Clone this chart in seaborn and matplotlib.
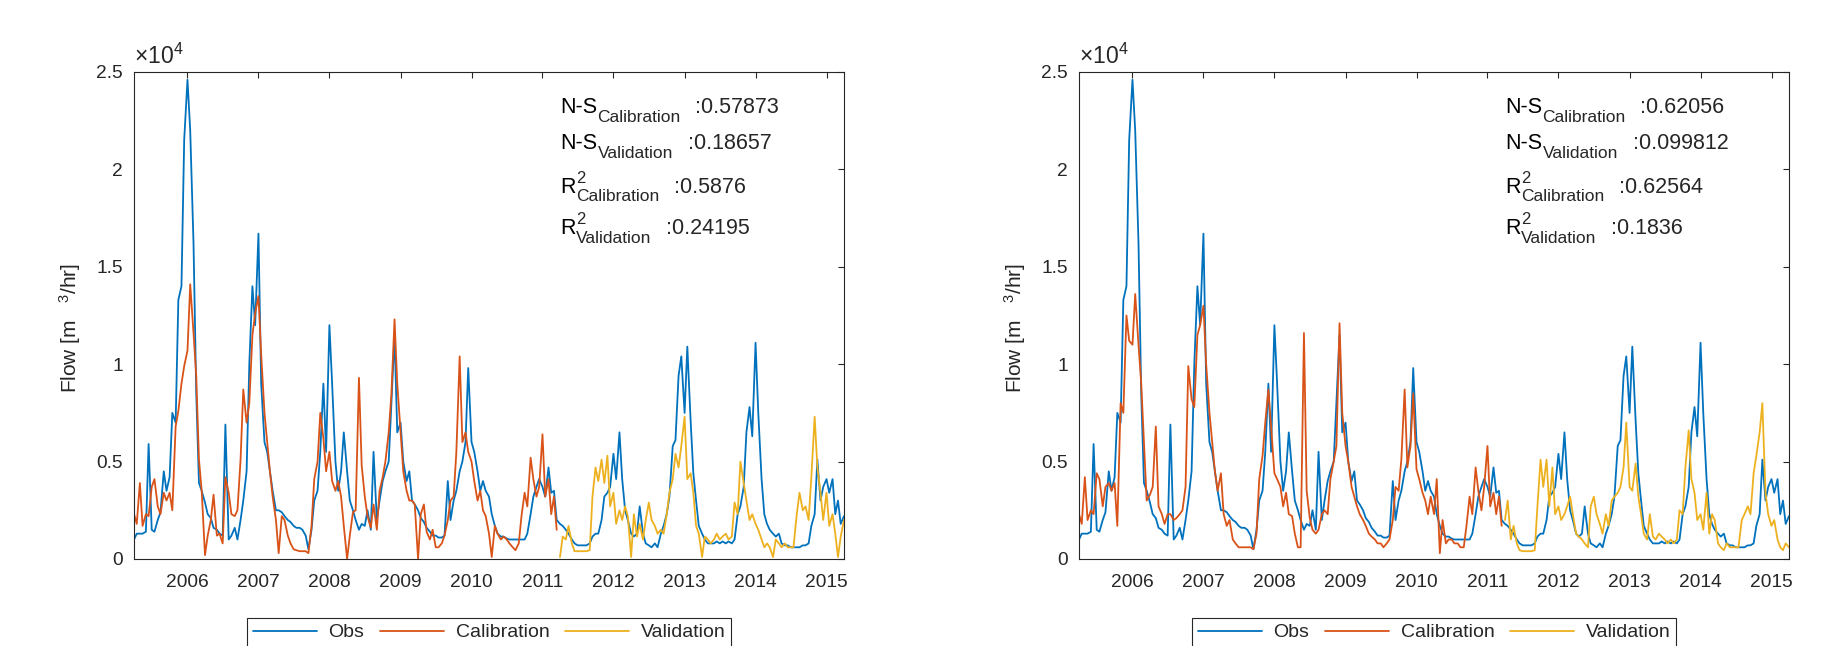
import numpy as np
import pandas as pd
import matplotlib
matplotlib.use("Agg")
import matplotlib.pyplot as plt
import matplotlib.dates as mdates
from matplotlib.ticker import FuncFormatter, MultipleLocator
import seaborn as sns

# semi-monthly samples from 2005-04-01 to 2015-04-01, flow in 1000 m3/hr
obs = [1.0, 1.3, 1.3, 1.3, 1.4, 5.9, 1.5, 1.4, 2.0, 2.4,
       4.5, 3.5, 4.2, 7.5, 7.0, 13.3, 14.0, 21.5, 24.6, 22.0,
       16.2, 8.5, 3.9, 3.5, 2.9, 2.3, 2.1, 1.6, 1.5, 1.3,
       1.2, 6.9, 1.0, 1.2, 1.6, 1.0, 2.0, 3.0, 4.5, 10.0,
       14.0, 12.0, 16.7, 9.0, 6.0, 5.5, 4.5, 3.5, 2.5, 2.5,
       2.4, 2.2, 2.0, 1.9, 1.7, 1.6, 1.6, 1.5, 1.2, 0.5,
       1.5, 3.0, 3.5, 5.5, 9.0, 5.5, 12.0, 9.0, 5.0, 3.5,
       4.5, 6.5, 4.5, 3.0, 2.5, 2.0, 1.5, 1.8, 1.7, 2.5,
       1.5, 5.5, 2.0, 3.0, 4.0, 4.5, 5.0, 8.0, 11.5, 6.5,
       7.0, 5.0, 4.0, 4.5, 3.0, 2.8, 2.5, 2.1, 1.9, 1.6,
       1.4, 1.2, 1.2, 1.1, 1.1, 1.2, 4.0, 2.0, 3.0, 3.5,
       4.5, 5.0, 6.0, 9.8, 6.0, 5.5, 4.5, 3.5, 4.0, 3.5,
       3.2, 2.3, 1.7, 1.3, 1.15, 1.15, 1.05, 1.0, 1.0, 1.0,
       1.0, 1.0, 1.0, 1.3, 2.3, 3.2, 3.7, 4.1, 3.7, 3.2,
       4.7, 3.4, 3.5, 2.0, 1.8, 1.7, 1.5, 1.3, 1.0, 0.8,
       0.7, 0.7, 0.7, 0.7, 0.8, 1.15, 1.3, 1.3, 2.0, 3.2,
       3.4, 3.7, 5.4, 4.1, 6.5, 4.1, 2.5, 2.0, 1.3, 1.15,
       1.3, 2.7, 1.3, 0.8, 0.7, 0.6, 0.8, 0.6, 1.3, 1.7,
       2.3, 3.2, 5.8, 6.1, 9.4, 10.4, 7.5, 10.9, 7.1, 4.4,
       3.0, 1.7, 1.3, 1.0, 0.8, 0.8, 0.8, 0.9, 0.8, 0.9,
       0.8, 0.9, 0.8, 1.0, 2.3, 2.7, 3.7, 6.5, 7.8, 6.3,
       11.1, 7.5, 4.1, 2.3, 1.8, 1.5, 1.3, 1.15, 1.3, 0.8,
       0.7, 0.7, 0.6, 0.6, 0.6, 0.6, 0.7, 0.7, 0.8, 1.7,
       2.3, 5.1, 3.0, 3.7, 4.1, 3.4, 4.1, 2.3, 3.0, 1.8,
       2.2]

# first model run (left panel)
calib_a = [2.3, 1.8, 3.9, 1.7, 2.3, 2.2, 3.7, 4.1, 2.7, 2.3,
           3.4, 3.0, 3.4, 2.5, 6.8, 7.6, 9.0, 9.9, 10.7, 14.1,
           11.6, 9.4, 5.1, 3.5, 0.2, 1.2, 2.0, 3.3, 1.2, 1.3,
           0.8, 4.2, 3.4, 2.3, 2.2, 2.5, 5.1, 8.7, 7.0, 8.0,
           11.5, 12.6, 13.5, 10.5, 7.5, 6.0, 4.5, 3.2, 2.0, 0.3,
           2.2, 2.0, 1.2, 0.8, 0.5, 0.45, 0.4, 0.4, 0.4, 0.3,
           1.7, 4.1, 5.0, 7.5, 6.2, 4.5, 5.5, 4.0, 3.5, 4.0,
           3.2, 1.7, 0.0, 1.2, 2.4, 2.5, 9.3, 4.8, 3.2, 2.2,
           1.6, 2.8, 1.5, 3.5, 4.2, 5.0, 6.5, 8.5, 12.3, 9.0,
           6.5, 4.5, 3.5, 3.0, 3.0, 2.8, 0.0, 2.3, 2.8, 1.4,
           1.0, 1.5, 0.6, 0.6, 0.8, 1.2, 2.0, 3.0, 3.2, 5.5,
           10.4, 6.0, 6.5, 5.5, 5.0, 4.0, 3.0, 3.5, 2.5, 2.2,
           1.3, 0.1, 1.7, 1.3, 1.0, 1.15, 1.0, 0.8, 0.6, 0.45,
           0.8, 2.2, 3.4, 2.7, 5.2, 4.1, 3.2, 3.7, 6.4, 3.2,
           4.1, 2.3, 3.2, 1.5]
valid_a = [0.1, 1.15, 1.0, 1.7, 0.8, 0.4, 0.4, 0.4, 0.4, 0.4,
           0.45, 3.2, 4.7, 4.0, 5.1, 3.9, 5.3, 2.7, 3.4, 1.8,
           2.5, 2.0, 2.7, 2.2, 0.1, 2.3, 1.15, 1.8, 1.0, 2.0,
           2.9, 2.0, 1.7, 1.3, 1.5, 1.3, 2.3, 3.4, 4.1, 5.4,
           4.7, 5.8, 7.3, 4.1, 4.4, 3.4, 1.7, 1.3, 0.1, 1.15,
           1.0, 0.8, 1.0, 1.3, 1.0, 1.15, 1.3, 1.0, 1.15, 2.9,
           2.3, 5.0, 3.9, 3.0, 2.0, 2.3, 1.8, 1.5, 1.0, 0.6,
           0.8, 0.6, 0.1, 1.0, 0.8, 0.6, 0.8, 0.6, 0.6, 0.6,
           2.3, 3.4, 2.5, 2.7, 2.0, 4.2, 7.3, 4.7, 3.4, 2.0,
           3.4, 1.7, 2.3, 1.3, 0.1, 1.15, 2.0]

# second model run (right panel)
calib_b = [2.3, 1.8, 4.2, 2.0, 2.5, 2.3, 4.4, 4.1, 2.7, 3.7,
           3.9, 3.5, 3.9, 1.7, 8.0, 7.5, 12.5, 11.2, 11.0, 13.6,
           11.0, 9.0, 6.0, 3.0, 3.3, 3.7, 6.8, 2.7, 2.3, 1.8,
           2.3, 2.3, 2.0, 2.1, 2.3, 2.5, 3.7, 9.9, 8.2, 7.8,
           11.5, 12.0, 13.0, 10.0, 7.5, 6.0, 4.5, 3.5, 4.4, 2.3,
           1.7, 2.0, 1.0, 0.8, 0.6, 0.6, 0.6, 0.6, 0.6, 0.5,
           1.3, 4.1, 5.3, 7.0, 8.7, 6.8, 4.4, 4.1, 3.7, 2.7,
           3.4, 2.3, 2.2, 1.3, 0.6, 0.6, 11.6, 3.5, 2.1, 1.5,
           1.3, 1.5, 2.3, 2.5, 2.3, 4.1, 5.0, 5.8, 12.1, 7.5,
           5.8, 5.0, 3.7, 3.2, 2.7, 2.3, 2.0, 1.7, 1.3, 1.15,
           1.0, 0.8, 0.8, 0.6, 0.8, 1.0, 2.0, 3.7, 3.5, 5.1,
           8.7, 4.7, 5.8, 8.5, 4.6, 4.1, 3.4, 3.0, 2.3, 3.2,
           2.3, 4.1, 0.3, 2.0, 0.8, 1.0, 1.0, 0.8, 0.8, 0.6,
           0.6, 1.7, 3.2, 2.3, 4.7, 3.5, 2.5, 3.7, 5.8, 2.7,
           3.4, 2.3, 3.2, 1.7]
valid_b = [2.0, 3.0, 1.0, 1.7, 0.8, 0.45, 0.4, 0.4, 0.4, 0.4,
           0.45, 2.7, 5.1, 3.7, 5.1, 2.7, 4.7, 2.3, 2.7, 2.0,
           2.3, 2.7, 3.2, 2.3, 1.3, 1.15, 1.0, 0.8, 0.6, 2.7,
           3.2, 2.3, 1.8, 1.3, 2.3, 1.7, 3.0, 3.2, 3.4, 3.7,
           4.7, 7.0, 3.7, 3.5, 4.9, 3.2, 2.3, 1.3, 1.0, 2.3,
           1.15, 1.0, 1.3, 1.15, 1.0, 0.8, 1.0, 0.8, 1.0, 2.5,
           2.3, 4.7, 6.6, 4.1, 3.4, 2.0, 2.3, 1.5, 3.4, 1.3,
           2.3, 2.0, 0.8, 0.6, 0.45, 0.8, 0.6, 0.6, 0.6, 0.6,
           2.0, 2.3, 2.7, 2.3, 4.4, 5.3, 6.5, 8.0, 3.4, 2.3,
           1.7, 2.0, 1.0, 0.6, 0.45, 0.8, 0.6]

stats_a = ["0.57873", "0.18657", "0.5876", "0.24195"]
stats_b = ["0.62056", "0.099812", "0.62564", "0.1836"]
stat_base = ["N-S", "N-S", "R", "R"]
stat_sup = ["", "", "2", "2"]
stat_sub = ["Calibration", "Validation", "Calibration", "Validation"]

dates = pd.date_range("2005-04-01", periods=len(obs), freq="SMS")
n_cal = len(calib_a)

sns.set_style("white")
plt.rcParams['font.family'] = ['Liberation Sans', 'DejaVu Sans']
plt.rcParams['mathtext.fontset'] = 'custom'
plt.rcParams['mathtext.rm'] = 'Liberation Sans'

C_OBS, C_CAL, C_VAL = "#0072BD", "#D95319", "#EDB120"
INK = "#262626"

fig = plt.figure(figsize=(18.36, 6.46), dpi=100)
ax1 = fig.add_axes([0.0730, 0.1347, 0.3867, 0.7539])
ax2 = fig.add_axes([0.5877, 0.1347, 0.3867, 0.7539])

for ax, cal, val, stats in [(ax1, calib_a, valid_a, stats_a),
                            (ax2, calib_b, valid_b, stats_b)]:
    sns.lineplot(x=dates, y=np.array(obs) * 1000, ax=ax, color=C_OBS,
                 linewidth=1.3, label="Obs")
    sns.lineplot(x=dates[:n_cal], y=np.array(cal) * 1000, ax=ax, color=C_CAL,
                 linewidth=1.3, label="Calibration")
    sns.lineplot(x=dates[n_cal:], y=np.array(val) * 1000, ax=ax, color=C_VAL,
                 linewidth=1.3, label="Validation")

    ax.set_xlim(dates[0], dates[-1])
    ax.set_ylim(0, 25000)
    ax.xaxis.set_major_locator(mdates.YearLocator())
    ax.xaxis.set_major_formatter(mdates.DateFormatter("%Y"))
    ax.yaxis.set_major_locator(MultipleLocator(5000))
    ax.yaxis.set_major_formatter(FuncFormatter(lambda v, p: "%g" % (v / 1e4)))
    ax.tick_params(direction="in", top=True, right=True, length=4.5,
                   width=0.8, color=INK, labelcolor=INK, labelsize=13.8)
    ax.tick_params(axis="x", pad=11)
    ax.tick_params(axis="y", pad=8)
    for s in ax.spines.values():
        s.set_color(INK)
        s.set_linewidth(0.8)
    ax.set_xlabel("")
    ax.set_ylabel("Flow [m   $\\mathregular{^{3}}$/hr]", fontsize=15, color=INK)
    ax.yaxis.set_label_coords(-0.072, 0.475)
    ax.text(0.0, 1.006, r"$\times$10$^{\mathregular{4}}$", transform=ax.transAxes,
            fontsize=16.5, color=INK, ha="left", va="bottom")

    # goodness-of-fit block: base text, stacked super/subscript, value
    ys = [0.915, 0.841, 0.752, 0.667]
    for base, sup, sub, value, y in zip(stat_base, stat_sup, stat_sub, stats, ys):
        t0 = ax.text(0.600, y, base, transform=ax.transAxes, fontsize=15.5,
                     color="black", ha="left", va="baseline")
        if sup:
            ax.annotate(sup, xy=(1, y), xycoords=(t0, "axes fraction"),
                        xytext=(0.3, 7.2), textcoords="offset points",
                        fontsize=12, ha="left", va="baseline")
        ts = ax.annotate(sub, xy=(1, y), xycoords=(t0, "axes fraction"),
                         xytext=(0.3, -6.2), textcoords="offset points",
                         fontsize=12.5, ha="left", va="baseline")
        ax.annotate(":" + value, xy=(1, y), xycoords=(ts, "axes fraction"),
                    xytext=(10.5, 0), textcoords="offset points",
                    fontsize=15.5, ha="left", va="baseline")

    leg = ax.legend(loc="upper center", bbox_to_anchor=(0.5, -0.121), ncol=3,
                    frameon=True, fancybox=False, borderaxespad=0,
                    handlelength=3.3, columnspacing=0.8, fontsize=14,
                    borderpad=0.3, handletextpad=0.6)
    leg.get_frame().set_edgecolor(INK)
    leg.get_frame().set_linewidth(0.8)
    leg.get_frame().set_alpha(1)

fig.savefig("out.png", dpi=100, facecolor="white")
